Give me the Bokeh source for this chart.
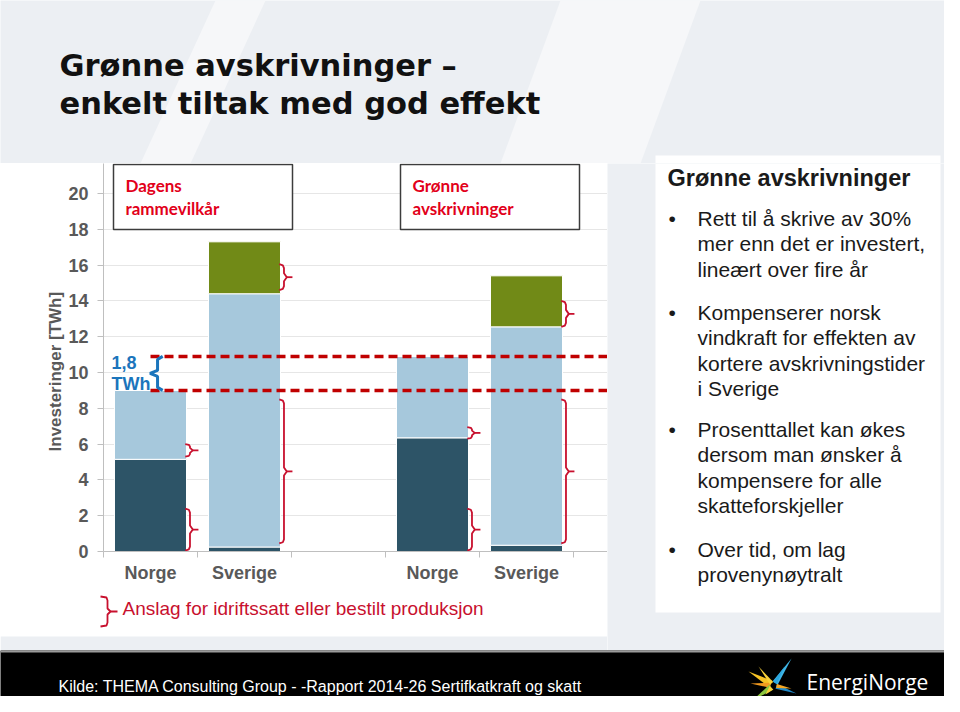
import math
from bokeh.plotting import figure
from bokeh.layouts import column, row
from bokeh.models import Range1d, FixedTicker, Label, BoxAnnotation, ColumnDataSource
from bokeh.embed import file_html
from bokeh.resources import INLINE

# ---------------- data ----------------
bar_pos = [0.5, 1.5, 3.5, 4.5]
bar_labels = ["Norge", "Sverige", "Norge", "Sverige"]
scenario_titles = [["Dagens", "rammevilkår"], ["Grønne", "avskrivninger"]]
dark_vals = [5.15, 0.25, 6.35, 0.35]     # idriftssatt / bestilt
light_vals = [3.85, 14.15, 4.55, 12.2]
green_vals = [0.0, 2.9, 0.0, 2.85]
y_ticks = [0, 2, 4, 6, 8, 10, 12, 14, 16, 18, 20]
bracket_bar = [0, 0, 1, 1, 2, 2, 3, 3]
bracket_low = [0.05, 5.3, 14.6, 0.45, 6.3, 0.05, 12.55, 0.45]
bracket_high = [2.4, 6.0, 16.05, 8.5, 6.95, 2.4, 14.0, 8.5]
diff_label = ["1,8", "TWh"]
y_label = "Investeringer [TWh]"
title_lines = ["Grønne avskrivninger –", "enkelt tiltak med god effekt"]
panel_title = "Grønne avskrivninger"
bullets = [
    ["Rett til å skrive av 30%", "mer enn det er investert,", "lineært over fire år"],
    ["Kompenserer norsk", "vindkraft for effekten av", "kortere avskrivningstider", "i Sverige"],
    ["Prosenttallet kan økes", "dersom man ønsker å", "kompensere for alle", "skatteforskjeller"],
    ["Over tid, om lag", "provenynøytralt"],
]
legend_text = "Anslag for idriftssatt eller bestilt produksjon"
source_text = "Kilde: THEMA Consulting Group - -Rapport 2014-26 Sertifkatkraft og skatt"
logo_text = "EnergiNorge"

# ---------------- layout constants ----------------
W, H = 944, 696
BG = "#eceff3"
RED = "#c8102e"
TOP_H = 163          # title strip
MID_BOTTOM = 650     # end of chart + panel row
CHART_R = 607        # right edge of chart column
CHART_BOTTOM = 594   # chart figure bottom (legend strip below)
FL, FR, FT, FB = 103, 607, 163, 551   # chart frame in page pixels
PXX, PXY = 94.0, 17.9


def deco_fig(x0, y0, w, h, bg=BG):
    f = figure(width=w, height=h, x_range=Range1d(x0, x0 + w), y_range=Range1d(y0 + h, y0),
               output_backend="svg", toolbar_location=None, x_axis_type=None, y_axis_type=None,
               min_border=0, min_border_left=0, min_border_right=0, min_border_top=0,
               min_border_bottom=0, frame_align=False)
    f.grid.visible = False
    f.outline_line_color = None
    f.background_fill_color = bg
    f.border_fill_color = bg
    return f


def label(f, x, y, text, size, color="#1a1a1a", font="Liberation Sans", style="normal"):
    # y is the vertical centre of the text line
    f.add_layout(Label(x=x, y=y, text=text, text_baseline="middle", text_font=font,
                       text_font_size=size, text_font_style=style, text_color=color))


# ---------------- title strip ----------------
top = deco_fig(0, 0, W, TOP_H)
top.patches(xs=[[215, 265, 190, 140], [560, 700, 640, 500]],
            ys=[[0, 0, 163, 163], [0, 0, 163, 163]],
            fill_color="#f6f7f9", line_color=None)
top.quad(left=[655], right=[940], top=[155], bottom=[TOP_H], fill_color="white", line_color=None)
for k, t in enumerate(title_lines):
    label(top, 59, 65 + 38 * k, t, "30.5px", "#111111", "DejaVu Sans", "bold")

# ---------------- chart ----------------
p = figure(width=CHART_R, height=CHART_BOTTOM - TOP_H,
           x_range=Range1d(0, (FR - FL) / PXX), y_range=Range1d(0, (FB - FT) / PXY),
           output_backend="svg", toolbar_location=None, frame_align=False,
           min_border_left=FL, min_border_right=0, min_border_top=0,
           min_border_bottom=CHART_BOTTOM - FB)
p.background_fill_color = "white"
p.border_fill_color = "white"
p.outline_line_color = None

p.xgrid.visible = False
p.ygrid.grid_line_color = "#e6e6e6"
p.yaxis.ticker = FixedTicker(ticks=y_ticks, minor_ticks=[])
p.xaxis.ticker = FixedTicker(ticks=bar_pos, minor_ticks=list(range(6)))
p.xaxis.major_label_overrides = {pos: lab for pos, lab in zip(bar_pos, bar_labels)}
p.xaxis.major_tick_line_color = None
p.xaxis.major_tick_out = 0
p.xaxis.major_tick_in = 0
p.xaxis.minor_tick_line_color = "#bfbfbf"
p.xaxis.minor_tick_out = 6
p.xaxis.minor_tick_in = 0
p.xaxis.major_label_standoff = 5
p.yaxis.major_tick_out = 6
p.yaxis.major_tick_in = 0
p.yaxis.major_label_standoff = 9
p.yaxis.major_tick_line_color = "#bfbfbf"
for ax in (p.xaxis, p.yaxis):
    ax.axis_line_color = "#bfbfbf"
    ax.major_label_text_font = "Liberation Sans"
    ax.major_label_text_font_size = "18px"
    ax.major_label_text_font_style = "bold"
    ax.major_label_text_color = "#595959"
p.yaxis.axis_label = y_label + "\u00a0" * 6
p.yaxis.axis_label_text_font = "Liberation Sans"
p.yaxis.axis_label_text_font_size = "17px"
p.yaxis.axis_label_text_font_style = "bold"
p.yaxis.axis_label_text_color = "#595959"
p.yaxis.axis_label_standoff = 0

src = ColumnDataSource(dict(x=bar_pos, dark=dark_vals, light=light_vals, green=green_vals))
p.vbar_stack(["dark", "light", "green"], x="x", width=0.766, source=src,
             color=["#2d5467", "#a6c8dc", "#718a17"], line_color="white", line_width=1)

# reference dashed lines (Norge totals in the two scenarios)
lo = dark_vals[0] + light_vals[0]
hi = dark_vals[2] + light_vals[2]
xe = (FR - FL) / PXX
p.segment(x0=[bar_pos[0], bar_pos[0]], y0=[lo, hi], x1=[xe, xe], y1=[lo, hi],
          line_color="#c00000", line_width=3.5, line_dash="9 5")

# blue brace showing the difference
ry = 3 / PXY
mid = (lo + hi) / 2
xv, xt, xm = bar_pos[0] + 0.075, bar_pos[0] + 0.13, bar_pos[0] - 0.005
p.line(x=[xt, xv, xv, xm, xv, xv, xt], y=[hi, hi - ry, mid + ry, mid, mid - ry, lo + ry, lo],
       line_color="#1b75bc", line_width=3)
for k, t in enumerate(diff_label):
    p.add_layout(Label(x=(111 - FL) / PXX, y=(FB - (362 + 21 * k)) / PXY, text=t,
                       text_baseline="middle", text_font="Liberation Sans",
                       text_font_size="18px", text_font_style="bold", text_color="#1b75bc"))

# red brackets
bxs, bys = [], []
for b, l, h in zip(bracket_bar, bracket_low, bracket_high):
    xc = bar_pos[b]
    v, hk, tk = xc + 0.42, xc + 0.37, xc + 0.51
    r = min(4 / PXY, (h - l) / 5)
    m = (l + h) / 2
    bxs.append([hk, v - 0.012, v, v, v + 0.03, v, v, v - 0.012, hk])
    bys.append([h, h - 0.3 * r, h - r, m + r, m, m - r, l + r, l + 0.3 * r, l])
    bxs.append([v + 0.03, tk])
    bys.append([m, m])
p.multi_line(xs=bxs, ys=bys, line_color=RED, line_width=1.8)

# scenario boxes
for (x0, x1), lines in zip([(113, 292), (400, 579)], scenario_titles):
    p.add_layout(BoxAnnotation(left=(x0 - FL) / PXX, right=(x1 - FL) / PXX,
                               top=(FB - 164) / PXY, bottom=(FB - 229) / PXY,
                               fill_color="white", fill_alpha=1, line_color="#3c3c3c",
                               line_alpha=1, line_width=1.5))
    for k, t in enumerate(lines):
        p.add_layout(Label(x=(x0 + 12 - FL) / PXX, y=(FB - (185 + 23 * k)) / PXY, text=t,
                           text_baseline="middle", text_font="Lato",
                           text_font_size="17px", text_font_style="bold",
                           text_color="#e2001a"))

# ---------------- legend strip under chart ----------------
leg = deco_fig(0, CHART_BOTTOM, CHART_R, MID_BOTTOM - CHART_BOTTOM, bg="white")
leg.quad(left=[0], right=[CHART_R], top=[636], bottom=[MID_BOTTOM], fill_color=BG, line_color=None)
leg.line(x=[100, 106, 107, 107, 110, 107, 107, 106, 100], y=[596, 597, 600, 608, 611, 614, 622, 625, 626],
         line_color=RED, line_width=1.8)
leg.line(x=[110, 117], y=[611, 611], line_color=RED, line_width=1.8)
label(leg, 122, 608, legend_text, "19px", RED)

# ---------------- right text panel ----------------
pan = deco_fig(CHART_R, TOP_H, W - CHART_R, MID_BOTTOM - TOP_H)
pan.quad(left=[655], right=[940], top=[TOP_H], bottom=[612], fill_color="white", line_color=None)
label(pan, 667, 177, panel_title, "23.5px", "#1a1a1a", style="bold")
group_start = [218, 312, 429, 549]
for g, lines in zip(group_start, bullets):
    label(pan, 668, g, "•", "21px")
    for k, t in enumerate(lines):
        label(pan, 697, g + 25.3 * k, t, "21px")

# ---------------- footer ----------------
foot = deco_fig(0, MID_BOTTOM, W, H - MID_BOTTOM, bg="black")
foot.quad(left=[0], right=[W], top=[MID_BOTTOM], bottom=[MID_BOTTOM + 2], fill_color="#9a9a9a",
          line_color=None)
label(foot, 58, 686, source_text, "16px", "white")
label(foot, 806, 681, logo_text, "21px", "white", "Open Sans")
cx, cy = 773, 685
rays = [(748, 671, "#f7c325", 3.5), (750, 683, "#f39a1f", 2.5), (752, 700, "#8cc63e", 3.0),
        (765, 694, "#f9d13a", 2.5), (791, 658, "#3fb5e6", 3.0), (784, 666, "#2aa6df", 2.0),
        (796, 693, "#1e88c9", 2.5), (791, 688, "#f5a623", 2.0), (758, 666, "#f9d13a", 2.0)]
rxs, rys, rcs = [], [], []
for tx, ty, col, w in rays:
    vx, vy = tx - cx, ty - cy
    L = math.hypot(vx, vy)
    ux, uy = vx / L, vy / L
    sx, sy = cx + ux * 3, cy + uy * 3
    px_, py_ = -uy * w, ux * w
    rxs.append([sx + px_, sx - px_, tx])
    rys.append([sy + py_, sy - py_, ty])
    rcs.append(col)
foot.patches(xs=rxs, ys=rys, fill_color=rcs, line_color=None)

layout = column(top, row(column(p, leg), pan), foot)
open("out.html", "w").write(file_html(layout, INLINE))
